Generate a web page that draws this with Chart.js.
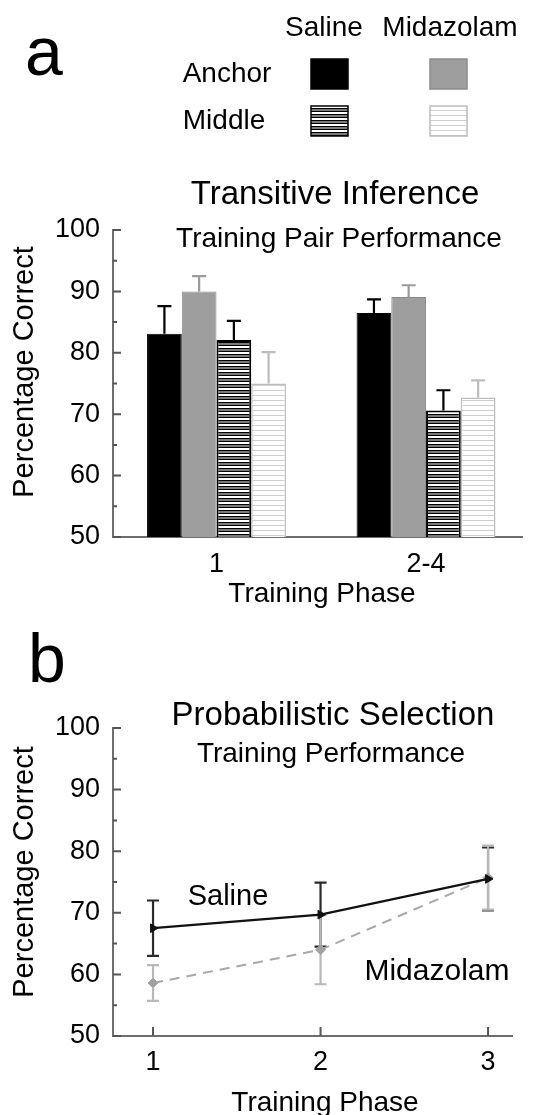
<!DOCTYPE html>
<html>
<head>
<meta charset="utf-8">
<script src="https://cdn.jsdelivr.net/npm/chart.js@4.4.1/dist/chart.umd.min.js"></script>
<style>
  body { margin: 0; background: #fff; }
  #page { position: relative; width: 555px; height: 1115px; overflow: hidden;
          font-family: 'Liberation Sans', Arial, sans-serif; color: #000; }
  canvas { position: absolute; left: 0; }
  .t { position: absolute; white-space: nowrap; line-height: 1; transform: translate(-50%, -50%); }
  .rot { transform: translate(-50%, -50%) rotate(-90deg); }
</style>
</head>
<body>
<div id="page">
  <canvas id="chartA" width="555" height="620" style="top:0"></canvas>
  <canvas id="chartB" width="555" height="495" style="top:620px"></canvas>

  <div class="t" style="left:44px;top:51px;font-size:68px">a</div>
  <div class="t" style="left:324px;top:27px;font-size:28px">Saline</div>
  <div class="t" style="left:450px;top:27px;font-size:28px">Midazolam</div>
  <div class="t" style="left:227px;top:73px;font-size:28px">Anchor</div>
  <div class="t" style="left:224px;top:120px;font-size:28px">Middle</div>
  <div class="t" style="left:335px;top:192px;font-size:33px">Transitive Inference</div>
  <div class="t" style="left:339px;top:238px;font-size:28px">Training Pair Performance</div>
  <div class="t rot" style="left:23px;top:372px;font-size:29px">Percentage Correct</div>
  <div class="t" style="left:322px;top:593px;font-size:28px">Training Phase</div>

  <div class="t" style="left:47px;top:658px;font-size:68px">b</div>
  <div class="t" style="left:333px;top:713px;font-size:33px">Probabilistic Selection</div>
  <div class="t" style="left:331px;top:753px;font-size:28px">Training Performance</div>
  <div class="t rot" style="left:23px;top:872px;font-size:29px">Percentage Correct</div>
  <div class="t" style="left:325px;top:1102px;font-size:28px">Training Phase</div>
  <div class="t" style="left:228px;top:895px;font-size:29px">Saline</div>
  <div class="t" style="left:437px;top:970px;font-size:30px">Midazolam</div>
</div>

<script>
// panel a: transitive inference, training pair performance
const phaseX = [1, 2];
const phaseLabels = ["1", "2-4"];
const anchorSaline = [83.1, 86.5];
const anchorSalineErr = [4.5, 2.2];
const anchorMidazolam = [90.0, 89.1];
const anchorMidazolamErr = [2.5, 1.9];
const middleSaline = [82.1, 70.6];
const middleSalineErr = [3.1, 3.3];
const middleMidazolam = [75.0, 72.7];
const middleMidazolamErr = [5.1, 2.8];

// panel b: probabilistic selection, training performance
const trainingPhases = [1, 2, 3];
const salineB = [67.5, 69.7, 75.5];
const salineBErr = [4.5, 5.2, 5.1];
const midazolamB = [58.6, 64.0, 75.7];
const midazolamBErr = [2.9, 5.6, 5.2];

Chart.defaults.font.family = "'Liberation Sans', Arial, sans-serif";
Chart.defaults.color = "#000";

function stripes(rows) {
  const c = document.createElement("canvas");
  c.width = 8;
  c.height = rows.length;
  const g = c.getContext("2d");
  rows.forEach((col, i) => {
    g.fillStyle = col;
    g.fillRect(0, i, 8, 1);
  });
  return g.createPattern(c, "repeat");
}

const darkStripes = stripes(["#000", "#7a7a7a", "#7a7a7a", "#000", "#fff", "#fff"]);
const lightStripes = stripes(["#cfcfcf", "#fff", "#fff", "#fff", "#fff"]);

function points(xs, ys) {
  return xs.map((x, i) => ({ x: x, y: ys[i] }));
}

const errorBars = {
  id: "errorBars",
  draw(chart, opts) {
    const ctx = chart.ctx;
    const ys = chart.scales.y;
    const n = chart.data.datasets.length;
    for (let k = 0; k < n; k++) {
      const i = opts.reverse ? n - 1 - k : k;
      const ds = chart.data.datasets[i];
      if (!ds.errors) continue;
      ctx.save();
      ctx.strokeStyle = ds.errorColor;
      ctx.lineWidth = opts.width;
      chart.getDatasetMeta(i).data.forEach((el, j) => {
        const v = ds.data[j].y, e = ds.errors[j];
        const top = ys.getPixelForValue(v + e);
        const bot = opts.twoSided ? ys.getPixelForValue(v - e) : el.y;
        ctx.beginPath();
        ctx.moveTo(el.x, top);
        ctx.lineTo(el.x, bot);
        ctx.moveTo(el.x - opts.cap, top);
        ctx.lineTo(el.x + opts.cap, top);
        if (opts.twoSided) {
          ctx.moveTo(el.x - opts.cap, bot);
          ctx.lineTo(el.x + opts.cap, bot);
        }
        ctx.stroke();
      });
      ctx.restore();
    }
  },
  beforeDatasetsDraw(chart, args, opts) {
    if (opts.under) this.draw(chart, opts);
  },
  afterDatasetsDraw(chart, args, opts) {
    if (!opts.under) this.draw(chart, opts);
  }
};

// ticks point into the plot, minor ones every 5
const innerTicks = {
  id: "innerTicks",
  afterDraw(chart, args, opts) {
    const ctx = chart.ctx, ys = chart.scales.y, xs = chart.scales.x;
    ctx.save();
    ctx.strokeStyle = opts.color;
    ctx.lineWidth = 2;
    ctx.beginPath();
    for (let v = ys.min; v <= ys.max; v += 5) {
      const py = ys.getPixelForValue(v);
      const len = v % 10 === 0 ? 8 : 4;
      ctx.moveTo(ys.right, py);
      ctx.lineTo(ys.right + len, py);
    }
    if (opts.xTicks) {
      xs.ticks.forEach(t => {
        const px = xs.getPixelForValue(t.value);
        ctx.moveTo(px, xs.top);
        ctx.lineTo(px, xs.top - 9);
      });
    }
    ctx.stroke();
    ctx.restore();
  }
};

const legendSwatches = {
  id: "legendSwatches",
  afterDraw(chart, args, opts) {
    const ctx = chart.ctx;
    chart.data.datasets.forEach((ds, i) => {
      const x = opts.cols[i % 2], y = opts.rows[Math.floor(i / 2)];
      ctx.save();
      ctx.fillStyle = ds.backgroundColor;
      ctx.fillRect(x, y, opts.w, opts.h);
      ctx.strokeStyle = ds.borderColor;
      ctx.lineWidth = 1.5;
      ctx.strokeRect(x, y, opts.w, opts.h);
      ctx.restore();
    });
  }
};

function yAxis() {
  return {
    min: 50,
    max: 100,
    afterFit: s => { s.width = 113; },
    ticks: { stepSize: 10, font: { size: 27 }, padding: 13, color: "#000" },
    grid: { display: false, drawTicks: false },
    border: { display: true, color: "#6e6e6e", width: 2 }
  };
}

new Chart(document.getElementById("chartA"), {
  type: "bar",
  data: {
    datasets: [
      { label: "Anchor Saline", data: points(phaseX, anchorSaline), errors: anchorSalineErr,
        backgroundColor: "#000", borderColor: "#000", borderWidth: 1, errorColor: "#000" },
      { label: "Anchor Midazolam", data: points(phaseX, anchorMidazolam), errors: anchorMidazolamErr,
        backgroundColor: "#9e9e9e", borderColor: "#8a8a8a", borderWidth: 1, errorColor: "#9a9a9a" },
      { label: "Middle Saline", data: points(phaseX, middleSaline), errors: middleSalineErr,
        backgroundColor: darkStripes, borderColor: "#000", borderWidth: 2, errorColor: "#000" },
      { label: "Middle Midazolam", data: points(phaseX, middleMidazolam), errors: middleMidazolamErr,
        backgroundColor: lightStripes, borderColor: "#bdbdbd", borderWidth: 1.5, errorColor: "#bdbdbd" }
    ]
  },
  options: {
    responsive: false,
    animation: false,
    layout: { padding: { top: 230, right: 33, left: 0, bottom: 0 } },
    categoryPercentage: 0.663,
    barPercentage: 1,
    scales: {
      x: {
        type: "linear",
        offset: false,
        min: 0.506,
        max: 2.458,
        afterFit: s => { s.height = 83; },
        afterBuildTicks: s => { s.ticks = phaseX.map(v => ({ value: v })); },
        ticks: { font: { size: 27 }, padding: 11, color: "#000",
                 callback: v => phaseLabels[phaseX.indexOf(v)] },
        grid: { display: false, drawTicks: false },
        border: { display: true, color: "#6e6e6e", width: 2 }
      },
      y: yAxis()
    },
    plugins: {
      legend: { display: false },
      tooltip: { enabled: false },
      errorBars: { width: 2.2, cap: 7, twoSided: false, under: false, reverse: true },
      innerTicks: { color: "#555", xTicks: false },
      legendSwatches: { cols: [311, 430], rows: [59, 106], w: 37, h: 30 }
    }
  },
  plugins: [errorBars, innerTicks, legendSwatches]
});

new Chart(document.getElementById("chartB"), {
  type: "line",
  data: {
    datasets: [
      { label: "Saline", data: points(trainingPhases, salineB), errors: salineBErr,
        borderColor: "#111", backgroundColor: "#111", borderWidth: 2.2,
        pointStyle: "triangle", pointRotation: 90, pointRadius: 5, pointBorderWidth: 1,
        errorColor: "#2a2a2a" },
      { label: "Midazolam", data: points(trainingPhases, midazolamB), errors: midazolamBErr,
        borderColor: "#a8a8a8", backgroundColor: "#a0a0a0", borderWidth: 2, borderDash: [10, 7],
        pointStyle: "rectRot", pointRadius: 5, pointBorderWidth: 1, errorColor: "#b8b8b8" }
    ]
  },
  options: {
    responsive: false,
    animation: false,
    layout: { padding: { top: 108, right: 43, left: 0, bottom: 0 } },
    scales: {
      x: {
        type: "linear",
        min: 0.761,
        max: 3.143,
        afterFit: s => { s.height = 79; },
        afterBuildTicks: s => { s.ticks = trainingPhases.map(v => ({ value: v })); },
        ticks: { font: { size: 27 }, padding: 10, color: "#000" },
        grid: { display: false, drawTicks: false },
        border: { display: true, color: "#6e6e6e", width: 2 }
      },
      y: yAxis()
    },
    plugins: {
      legend: { display: false },
      tooltip: { enabled: false },
      errorBars: { width: 2.2, cap: 6, twoSided: true, under: true, reverse: false },
      innerTicks: { color: "#555", xTicks: true }
    }
  },
  plugins: [errorBars, innerTicks]
});
</script>
</body>
</html>
